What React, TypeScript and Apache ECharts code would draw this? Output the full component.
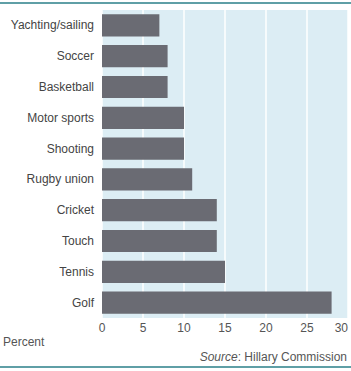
import React, { useEffect, useRef } from "react";
import * as echarts from "echarts";

const categories = [
  "Yachting/sailing",
  "Soccer",
  "Basketball",
  "Motor sports",
  "Shooting",
  "Rugby union",
  "Cricket",
  "Touch",
  "Tennis",
  "Golf",
];
const percentValues = [7, 8, 8, 10, 10, 11, 14, 14, 15, 28];
const axisTitle = "Percent";
const sourceLabel = "Source";
const sourceText = ": Hillary Commission";

const FONT = "'Liberation Sans', Arial, Helvetica, sans-serif";

export default function App() {
  const ref = useRef<HTMLDivElement>(null);
  useEffect(() => {
    if (!ref.current) return;
    const chart = echarts.init(ref.current, null, { renderer: "svg" });
    chart.setOption({
      animation: false,
      backgroundColor: "#ffffff",
      grid: {
        left: 102,
        right: 3,
        top: 10,
        bottom: 53,
        show: true,
        backgroundColor: "#dcedf4",
        borderWidth: 0,
      },
      xAxis: {
        type: "value",
        min: 0,
        max: 30,
        interval: 5,
        axisLine: { show: false },
        axisTick: { show: false },
        splitLine: { show: true, lineStyle: { color: "#ffffff", width: 1.5 } },
        axisLabel: {
          color: "#555555",
          fontSize: 12,
          fontFamily: FONT,
          margin: 4,
          alignMaxLabel: "right",
        },
      },
      yAxis: {
        type: "category",
        data: categories,
        inverse: true,
        axisLine: { show: false },
        axisTick: { show: false },
        splitLine: { show: false },
        axisLabel: {
          color: "#444444",
          fontSize: 12,
          fontFamily: FONT,
          margin: 8,
        },
      },
      series: [
        {
          type: "bar",
          data: percentValues,
          barWidth: "72%",
          itemStyle: { color: "#6a6b73" },
        },
      ],
      graphic: [
        {
          type: "line",
          shape: { x1: 0, y1: 3, x2: 351, y2: 3 },
          style: { stroke: "#5f9fa6", lineWidth: 2 },
        },
        {
          type: "line",
          shape: { x1: 0, y1: 367, x2: 351, y2: 367 },
          style: { stroke: "#5f9fa6", lineWidth: 2 },
        },
        {
          type: "text",
          left: 3,
          top: 336,
          style: {
            text: axisTitle,
            fontSize: 12,
            fontFamily: FONT,
            fill: "#555555",
          },
        },
        {
          type: "text",
          right: 4,
          top: 351,
          style: {
            text: "{i|" + sourceLabel + "}" + sourceText,
            fontSize: 12,
            fontFamily: FONT,
            fill: "#555555",
            rich: {
              i: { fontStyle: "italic", fontSize: 12, fontFamily: FONT, fill: "#555555" },
            },
          },
        },
      ],
    });
    return () => chart.dispose();
  }, []);
  return (
    <div
      ref={ref}
      style={{ position: "fixed", left: 0, top: 0, width: 351, height: 371 }}
    />
  );
}
